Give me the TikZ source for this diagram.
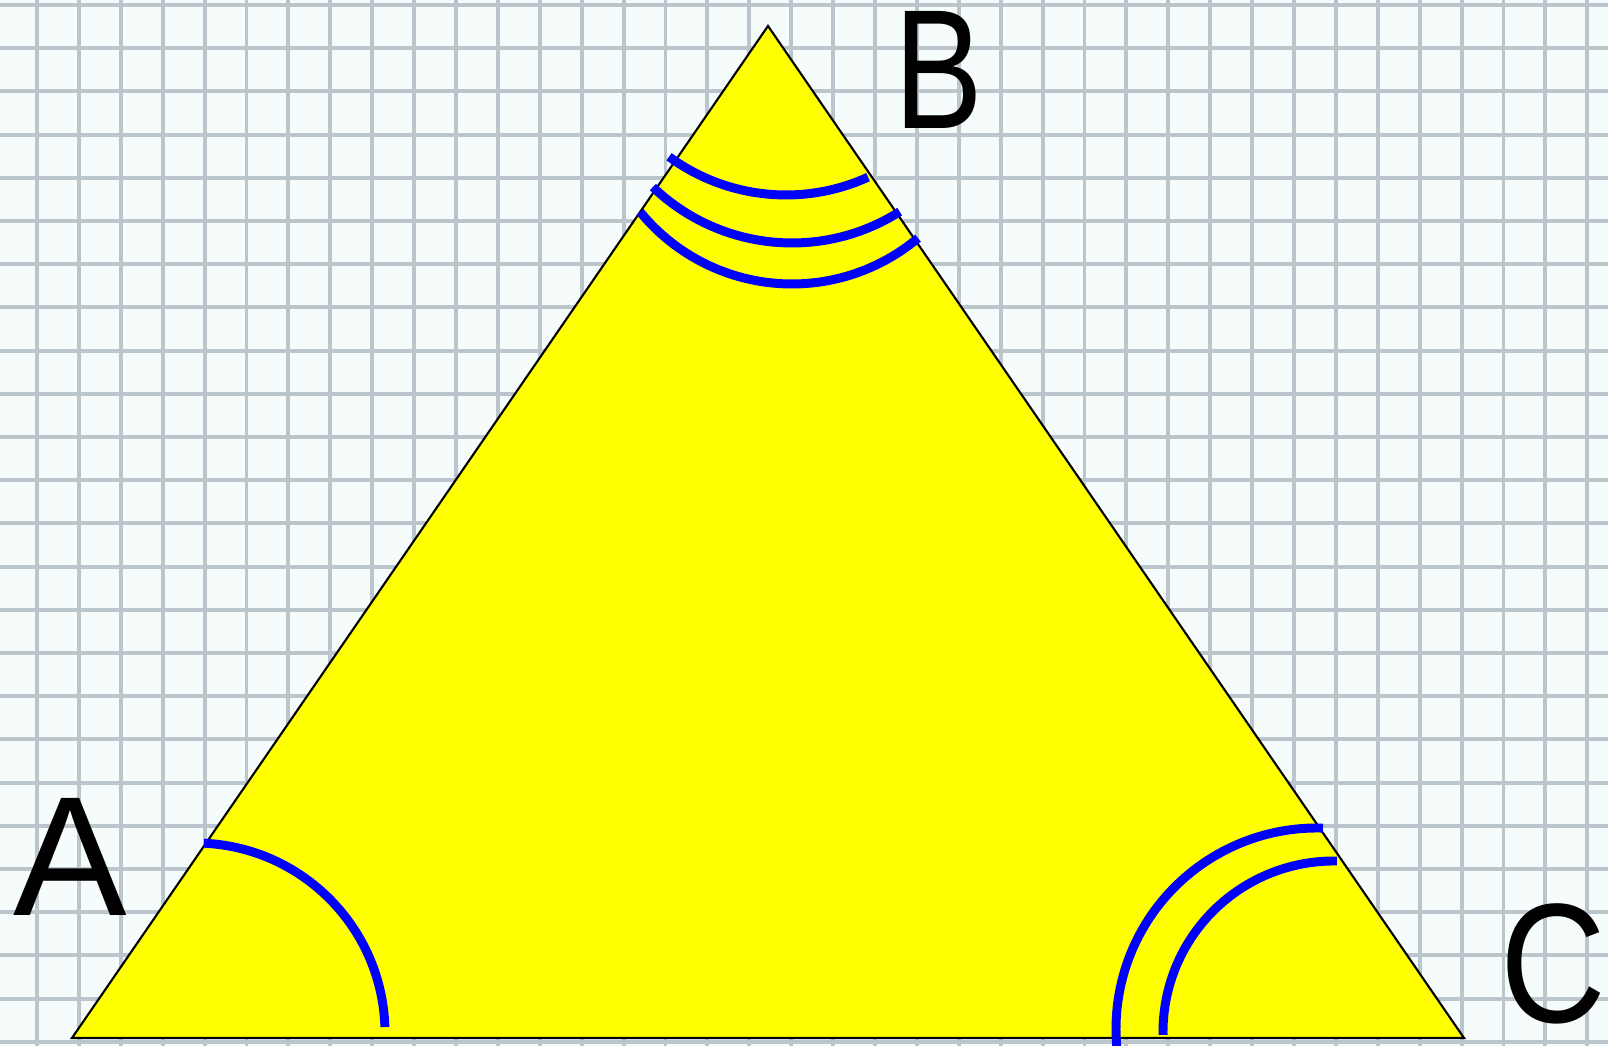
\documentclass[tikz,border=0pt]{standalone}
\usepackage{fontspec}
\setmainfont{Liberation Sans}
\definecolor{gridc}{RGB}{186,198,203}
\definecolor{paper}{RGB}{246,251,252}
\definecolor{arcblue}{RGB}{0,0,255}
\definecolor{triyellow}{RGB}{255,255,0}
\begin{document}
\begin{tikzpicture}[x=0.01cm,y=0.01cm,
  gridln/.style={draw=gridc, line width=1.1pt},
  tri/.style={fill=triyellow, draw=black, line width=0.6pt},
  angarc/.style={draw=arcblue, line width=2.55pt, line cap=butt},
  lbl/.style={inner sep=0pt, font=\fontsize{48.4}{58}\selectfont}]
\useasboundingbox (0,0) rectangle (1608,1046);
\clip (0,0) rectangle (1608,1046);
\fill[paper] (0,0) rectangle (1608,1046);
\foreach \k in {0,...,37} \draw[gridln] ({37+41.9*\k},0) -- ({37+41.9*\k},1046);
\foreach \j in {0,...,24} \draw[gridln] (0,{1041-43.2*\j}) -- (1608,{1041-43.2*\j});
\coordinate (A) at (72,8);
\coordinate (B) at (768,1020);
\coordinate (C) at (1464,8);
\filldraw[tri] (A) -- (B) -- (C) -- cycle;
% angle A
\draw[angarc] (195,13) ++(87.3:190) arc[start angle=87.3, end angle=1.8, radius=190];
% angle C
\draw[angarc] (1317,17) ++(88.3:201) arc[start angle=88.3, end angle=186, radius=201];
\draw[angarc] (1334,14) ++(89:171) arc[start angle=89, end angle=181, radius=171];
% angle B
\draw[angarc] (786,1049) ++(-126.2:198) arc[start angle=-126.2, end angle=-65.5, radius=198];
\draw[angarc] (792,1004) ++(-133.8:201) arc[start angle=-133.8, end angle=-57.6, radius=201];
\draw[angarc] (792,958) ++(-140.8:196) arc[start angle=-140.8, end angle=-50, radius=196];
% labels
\node[lbl] (lA) at (70,189) {A};
\node[lbl] (lB) at (939,976) {\scalebox{0.78}[1]{B}};
\node[lbl] (lC) at (1553,82) {\scalebox{0.86}[1]{C}};
\end{tikzpicture}
\end{document}
